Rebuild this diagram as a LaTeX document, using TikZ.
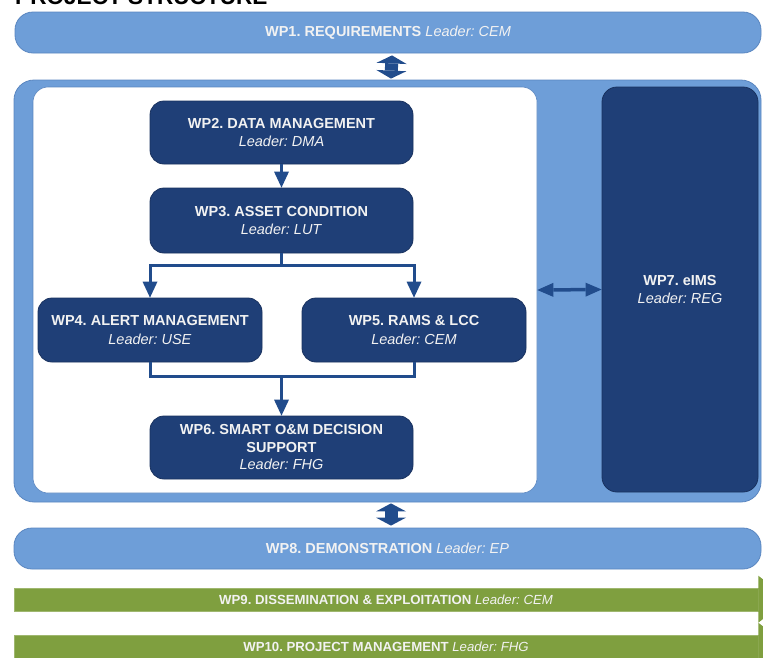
\documentclass[tikz,border=0pt]{standalone}
\usepackage{fontspec}
\setmainfont{Liberation Sans}
\usetikzlibrary{arrows.meta}
\frenchspacing

\definecolor{hellblau}{HTML}{6E9ED8}
\definecolor{hellrand}{HTML}{5A86C0}
\definecolor{dunkelblau}{HTML}{1F3F77}
\definecolor{pfeilblau}{HTML}{214C8C}
\definecolor{gruen}{HTML}{7F9F3F}
\definecolor{schrift}{HTML}{F2F2F2}

\tikzset{
  wpbox/.style={draw=dunkelblau!80!black, line width=0.8pt, fill=dunkelblau, rounded corners=14pt,
    text=schrift, align=center, font=\fontsize{14.5}{18.5}\selectfont},
  wpbalken/.style={draw=hellrand, line width=0.8pt, fill=hellblau, rounded corners=18pt,
    text=schrift, font=\fontsize{14.5}{18.5}\selectfont},
  wpgruen/.style={draw=gruen!75!white, line width=0.6pt, fill=gruen, text=schrift, inner sep=0pt,
    font=\fontsize{13.2}{15}\selectfont},
  linie/.style={draw=pfeilblau, line width=3pt},
  fluss/.style={linie, -{Triangle[length=16pt,width=15pt,line width=0pt]}},
  querpfeil/.style={draw=pfeilblau, line width=3.5pt,
    {Triangle[length=16pt,width=14pt,line width=0pt]}-{Triangle[length=16pt,width=14pt,line width=0pt]}},
  blockpfeil/.style={draw=pfeilblau, line width=13pt,
    {Triangle[length=8pt,width=30pt,line width=0pt]}-{Triangle[length=8pt,width=30pt,line width=0pt]}},
}

\begin{document}
\begin{tikzpicture}[x=1pt,y=-1pt]
  \useasboundingbox (0,0) rectangle (763,657);

  % Titel (oben abgeschnitten)
  \node[anchor=base west, inner sep=0pt, font=\fontsize{22.6}{26}\selectfont\bfseries] (titel) at (15,4) {PROJECT STRUCTURE};

  % WP1 oben
  \node[wpbalken, minimum width=746pt, minimum height=41pt] (wp1) at (388,32.5)
    {\textbf{WP1. REQUIREMENTS} \textit{Leader: CEM}};

  % Rahmen, weisses Feld und WP7
  \node[draw=hellrand, line width=0.8pt, fill=hellblau, rounded corners=20pt,
    minimum width=747pt, minimum height=422pt] (rahmen) at (387.5,291) {};
  \node[draw=hellrand, line width=0.6pt, fill=white, rounded corners=15pt,
    minimum width=504pt, minimum height=406pt] (feld) at (285,290) {};
  \node[wpbox, rounded corners=15pt, minimum width=156pt, minimum height=405pt] (wp7) at (680,289.5)
    {\textbf{WP7. eIMS}\\\textit{Leader: REG}};

  % Arbeitspakete im Feld
  \node[wpbox, minimum width=263pt, minimum height=63pt] (wp2) at (281.5,132.5)
    {\textbf{WP2. DATA MANAGEMENT}\\\textit{Leader: DMA}};
  \node[wpbox, minimum width=263pt, minimum height=65pt] (wp3) at (281.5,220.5)
    {\textbf{WP3. ASSET CONDITION}\\\textit{Leader: LUT}};
  \node[wpbox, minimum width=224pt, minimum height=64pt] (wp4) at (150,330)
    {\textbf{WP4. ALERT MANAGEMENT}\\\textit{Leader: USE}};
  \node[wpbox, minimum width=224pt, minimum height=64pt] (wp5) at (414,330)
    {\textbf{WP5. RAMS \& LCC}\\\textit{Leader: CEM}};
  \node[wpbox, minimum width=263pt, minimum height=63pt, font=\fontsize{14.5}{17.5}\selectfont] (wp6) at (281.5,447.5)
    {\textbf{WP6. SMART O\&M DECISION}\\\textbf{SUPPORT}\\\textit{Leader: FHG}};

  % Verzweigungen
  \coordinate (teilung) at (281.5,265);
  \coordinate (treffen) at (281.5,376);

  \draw[fluss] (wp2) -- (wp3);
  \draw[linie] (wp3) -- (teilung);
  \draw[fluss] (teilung) -| (wp4.north);
  \draw[fluss] (teilung) -| (wp5.north);
  \draw[linie] (wp4.south) |- (treffen);
  \draw[linie] (wp5.south) |- (treffen);
  \draw[fluss] (treffen) -- (wp6);

  % Verbindung zu WP7
  \draw[querpfeil] (feld.east) -- (wp7.west);

  % WP8 unten
  \node[wpbalken, minimum width=747pt, minimum height=41pt] (wp8) at (387.5,548.5)
    {\textbf{WP8. DEMONSTRATION} \textit{Leader: EP}};

  % dicke Doppelpfeile
  \draw[blockpfeil] ([xshift=4pt,yshift=-2pt]wp1.south) -- ([xshift=3.5pt,yshift=1pt]rahmen.north);
  \draw[blockpfeil] ([xshift=3.5pt,yshift=-1pt]rahmen.south) -- ([xshift=3.5pt,yshift=2pt]wp8.north);

  % gruene Balken mit Spitze rechts
  \node[wpgruen, minimum width=744pt, minimum height=23pt] (wp9) at (386,599.5)
    {\textbf{WP9. DISSEMINATION \& EXPLOITATION} \textit{Leader: CEM}};
  \node[wpgruen, minimum width=744pt, minimum height=23pt] (wp10) at (386,646.5)
    {\textbf{WP10. PROJECT MANAGEMENT} \textit{Leader: FHG}};
  \fill[gruen] (wp9.north east) ++(0,-12) -- ++(30,23.5) -- ++(-30,23.5) -- cycle;
  \fill[gruen] (wp10.north east) ++(0,-12) -- ++(30,23.5) -- ++(-30,23.5) -- cycle;
\end{tikzpicture}
\end{document}
